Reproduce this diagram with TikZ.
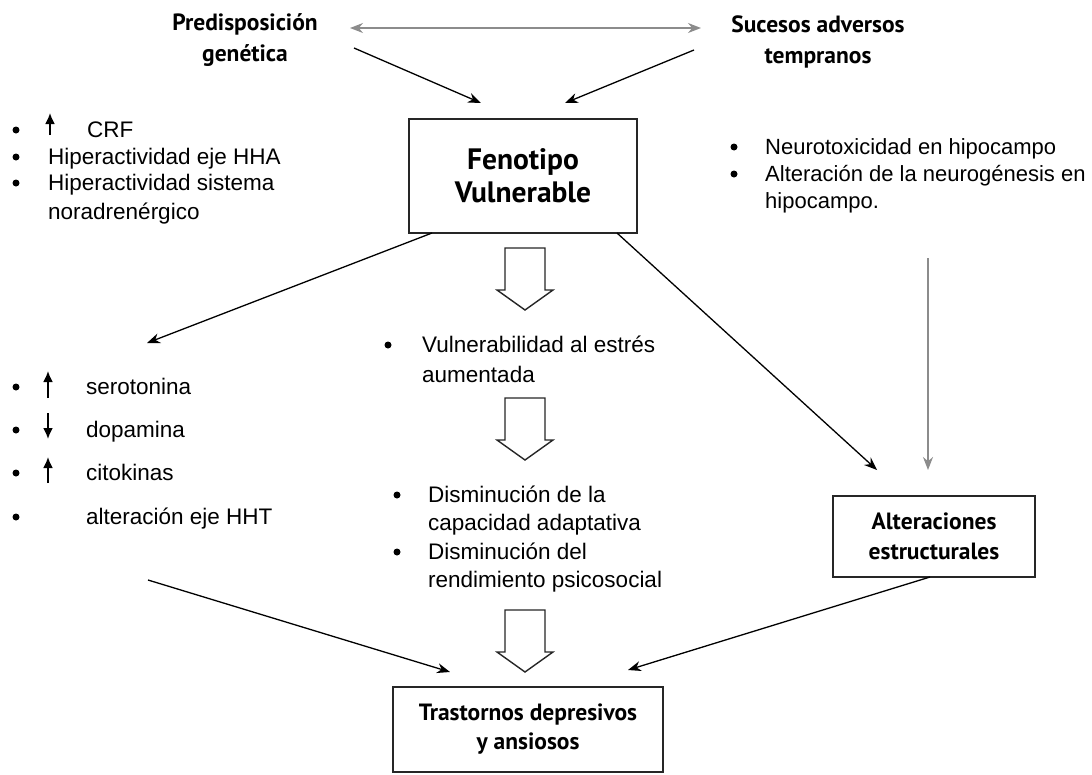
\documentclass[tikz,border=0pt]{standalone}
\usepackage{fontspec}
\setmainfont{Liberation Sans}
\newfontfamily\hfont{PT Sans}
\usetikzlibrary{arrows.meta}
\begin{document}
\begin{tikzpicture}[x=1pt,y=-1pt,
  body/.style={font=\fontsize{22.5}{27}\selectfont, inner sep=0pt, anchor=base west},
  bodyr/.style={body, font=\fontsize{22}{27}\selectfont},
  head/.style={font=\hfont\bfseries\fontsize{23.5}{31}\selectfont, align=center, inner sep=0pt},
  box/.style={draw=black!85, line width=1.6pt, align=center, inner sep=0pt},
  dot/.style={circle, fill=black, inner sep=0pt, minimum size=7pt},
  arr/.style={-{Stealth[length=13pt,width=10pt]}, line width=1.3pt},
  garr/.style={arr, draw=black!45, fill=black!45},
  hollow/.style={draw=black!85, line width=1.4pt, fill=white, line join=miter},
  updn/.style={line width=1.8pt, -{Latex[length=11pt,width=10pt]}}
]
\useasboundingbox (0,0) rectangle (1092,774);

% headings
\node[head] (pred) at (245,40) {Predisposición\\genética};
\node[head] (suc) at (818,42) {Sucesos adversos\\tempranos};

% main boxes
\node[box, minimum width=228pt, minimum height=114pt, font=\hfont\bfseries\fontsize{29.5}{33}\selectfont] (feno) at (523,176) {Fenotipo\\Vulnerable};
\node[box, minimum width=202pt, minimum height=81pt, font=\hfont\bfseries\fontsize{23.5}{30}\selectfont] (alt) at (934,536.5) {Alteraciones\\estructurales};
\node[box, minimum width=270pt, minimum height=85pt, font=\hfont\bfseries\fontsize{23.5}{29}\selectfont] (tras) at (528,729.5) {Trastornos depresivos\\y ansiosos};

% top-left list
\node[dot] (d1) at (16,130) {};
\draw[updn] (50,135) -- (50,113);
\node[body] (t1) at (87,137) {CRF};
\node[dot] (d2) at (16,157) {};
\node[body] (t2) at (48,164) {Hiperactividad eje HHA};
\node[dot] (d3) at (16,183) {};
\node[body] (t3) at (48,190) {Hiperactividad sistema};
\node[body] (t4) at (48,219) {noradrenérgico};

% right list
\node[dot] (r1) at (734,147) {};
\node[bodyr] (rt1) at (765,154) {Neurotoxicidad en hipocampo};
\node[dot] (r2) at (734,174) {};
\node[bodyr] (rt2) at (765,181) {Alteración de la neurogénesis en};
\node[bodyr] (rt3) at (765,208) {hipocampo.};

% left list 2
\node[dot] (l1) at (16,387) {};
\draw[updn] (48,398) -- (48,371);
\node[body] (lt1) at (86,394) {serotonina};
\node[dot] (l2) at (16,430) {};
\draw[updn] (48,413) -- (48,439);
\node[body] (lt2) at (86,437) {dopamina};
\node[dot] (l3) at (16,473) {};
\draw[updn] (48,483) -- (48,457);
\node[body] (lt3) at (86,480) {citokinas};
\node[dot] (l4) at (16,517) {};
\node[body] (lt4) at (86,524) {alteración eje HHT};

% middle list 1
\node[dot] (m1) at (388,345) {};
\node[body] (mt1) at (422,352) {Vulnerabilidad al estrés};
\node[body] (mt2) at (422,382) {aumentada};

% middle list 2
\node[dot] (n1) at (397,495) {};
\node[body] (nt1) at (428,502) {Disminución de la};
\node[body] (nt2) at (428,530) {capacidad adaptativa};
\node[dot] (n2) at (397,552) {};
\node[body] (nt3) at (428,559) {Disminución del};
\node[body] (nt4) at (428,587) {rendimiento psicosocial};

% hollow arrows
\foreach \t in {248,398,610}{
  \draw[hollow] (505,\t) -- (545,\t) -- (545,\t+42) -- (553,\t+42) -- (525,\t+62) -- (497,\t+42) -- (505,\t+42) -- cycle;
}

% connector end points
\coordinate (pL) at (350,28);
\coordinate (sR) at (701,28);
\coordinate (p1) at (354,48);
\coordinate (f1) at (481,103);
\coordinate (s1) at (694,50);
\coordinate (f2) at (565,103);
\coordinate (fL) at (432,233);
\coordinate (lL) at (147,343);
\coordinate (fR) at (617,233);
\coordinate (aT) at (877,470);
\coordinate (rB) at (928,258);
\coordinate (aT2) at (928,470);
\coordinate (lB) at (148,580);
\coordinate (tL) at (450,672);
\coordinate (aB) at (930,577);
\coordinate (tR) at (628,670);

\draw[garr, {Stealth[length=13pt,width=10pt]}-{Stealth[length=13pt,width=10pt]}] (pL) -- (sR);
\draw[arr] (p1) -- (f1);
\draw[arr] (s1) -- (f2);
\draw[arr] (fL) -- (lL);
\draw[arr] (fR) -- (aT);
\draw[garr] (rB) -- (aT2);
\draw[arr] (lB) -- (tL);
\draw[arr] (aB) -- (tR);
\end{tikzpicture}
\end{document}
